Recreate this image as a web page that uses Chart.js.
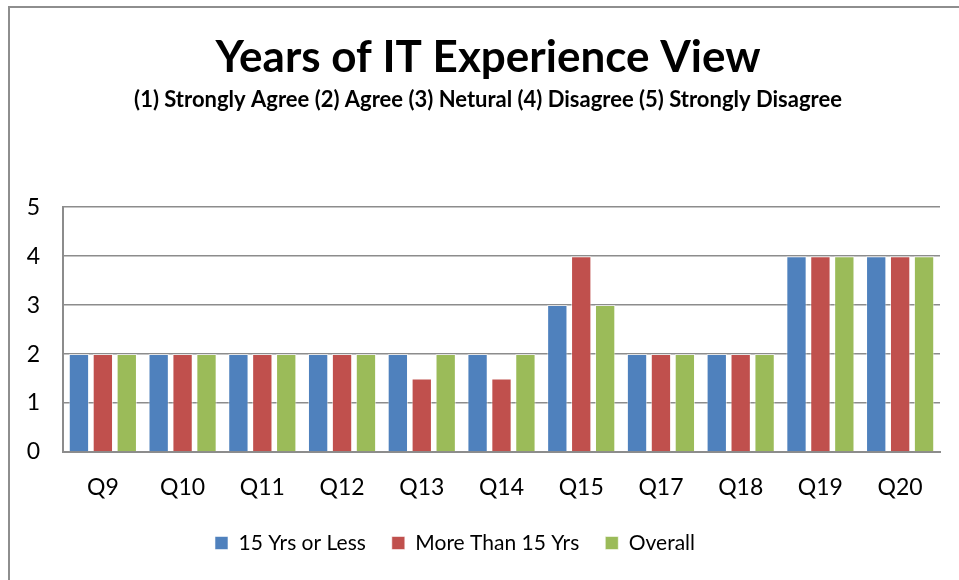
<!DOCTYPE html>
<html>
<head>
<meta charset="utf-8">
<script src="https://cdn.jsdelivr.net/npm/chart.js@4/dist/chart.umd.min.js"></script>
<style>
  html, body { margin: 0; padding: 0; background: #fff; }
  #wrap { position: relative; width: 959px; height: 580px; overflow: hidden; }
  #frame { position: absolute; left: 8px; top: 6px; width: 1000px; height: 700px;
           border-left: 2px solid #8e8e8e; border-top: 2px solid #8e8e8e; pointer-events: none; }
</style>
</head>
<body>
<div id="wrap">
  <canvas id="myChart" width="959" height="580"></canvas>
  <div id="frame"></div>
</div>
<script>
var questions = ['Q9', 'Q10', 'Q11', 'Q12', 'Q13', 'Q14', 'Q15', 'Q17', 'Q18', 'Q19', 'Q20'];
var lessThan15 = [2, 2, 2, 2, 2, 2, 3, 2, 2, 4, 4];
var moreThan15 = [2, 2, 2, 2, 1.5, 1.5, 4, 2, 2, 4, 4];
var overall = [2, 2, 2, 2, 2, 2, 3, 2, 2, 4, 4];
var yTicks = [0, 1, 2, 3, 4, 5];

var seriesNames = ['15 Yrs or Less', 'More Than 15 Yrs', 'Overall'];
var barColors = ['#4f81bd', '#c0504d', '#9bbb59'];
var gridGray = '#8c8c8c';
var fontName = 'Lato, "Open Sans", sans-serif';

function makeSet(i, values) {
  return {
    label: seriesNames[i],
    data: values,
    backgroundColor: barColors[i],
    borderColor: 'rgba(255,255,255,0.55)',
    borderWidth: 1,
    barPercentage: 0.85,
    categoryPercentage: 0.9
  };
}

// titles sit right of centre in the original, legend a bit left
var nudgeBoxes = {
  id: 'nudgeBoxes',
  afterLayout: function(chart) {
    chart.boxes.forEach(function(b) {
      if (b.position === 'top' && b.options && b.options.text) {
        b.left += 18;
        b.right += 18;
      }
    });
    chart.legend.left -= 15;
    chart.legend.right -= 15;
    chart.legend.top += 4.5;
    chart.legend.bottom += 4.5;
  }
};

var ctx = document.getElementById('myChart');
var myChart = new Chart(ctx, {
  type: 'bar',
  data: {
    labels: questions,
    datasets: [makeSet(0, lessThan15), makeSet(1, moreThan15), makeSet(2, overall)]
  },
  plugins: [nudgeBoxes],
  options: {
    responsive: false,
    maintainAspectRatio: false,
    animation: false,
    layout: { padding: { left: 0, right: 19, top: 0, bottom: 21 } },
    plugins: {
      title: {
        display: true,
        text: 'Years of IT Experience View',
        color: '#000',
        font: { family: fontName, size: 44, weight: 'bold' },
        padding: { top: 31, bottom: 0 }
      },
      subtitle: {
        display: true,
        text: '(1) Strongly Agree (2) Agree (3) Netural (4) Disagree (5) Strongly Disagree',
        color: '#000',
        font: { family: fontName, size: 22, weight: 'bold' },
        padding: { top: 3, bottom: 94 }
      },
      legend: {
        position: 'bottom',
        labels: {
          color: '#000',
          font: { family: fontName, size: 21 },
          boxWidth: 13,
          boxHeight: 13,
          padding: 26
        }
      },
      tooltip: { enabled: false }
    },
    scales: {
      x: {
        afterFit: function(scale) { scale.height = 50; },
        grid: { display: false, drawTicks: false },
        border: { display: true, color: gridGray, width: 2 },
        ticks: { color: '#000', font: { family: fontName, size: 23 }, padding: 22 }
      },
      y: {
        min: 0,
        max: 5,
        afterBuildTicks: function(scale) {
          scale.ticks = yTicks.map(function(v) { return { value: v }; });
        },
        afterFit: function(scale) { scale.width = 63; },
        grid: { color: gridGray, lineWidth: 1.5, drawTicks: false },
        border: { display: true, color: gridGray, width: 2 },
        ticks: { color: '#000', font: { family: fontName, size: 23 }, padding: 23 }
      }
    }
  }
});
</script>
</body>
</html>
